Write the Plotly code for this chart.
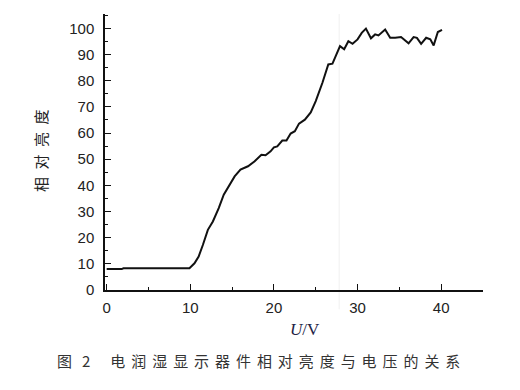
import plotly.graph_objects as go

voltage = [0.0, 1.8, 2.0, 9.9, 10.5, 11.0, 11.5, 12.1, 12.7, 13.4, 14.0, 14.7, 15.3, 16.0,
           16.9, 17.7, 18.5, 19.0, 19.6, 20.0, 20.4, 21.0, 21.5, 22.0, 22.5, 23.0, 23.7,
           24.4, 25.0, 25.8, 26.5, 27.0, 27.4, 27.9, 28.4, 28.9, 29.4, 30.0, 30.5, 31.0,
           31.6, 32.1, 32.5, 33.3, 33.9, 34.5, 35.2, 36.1, 36.7, 37.1, 37.6, 38.2, 38.7,
           39.1, 39.6, 40.1]
brightness = [8.0, 8.0, 8.3, 8.3, 10.2, 12.8, 17.2, 23.0, 26.2, 31.3, 36.4, 40.2, 43.4, 46.0,
              47.3, 49.2, 51.7, 51.5, 53.0, 54.5, 54.9, 57.1, 57.1, 59.8, 60.7, 63.6, 65.1,
              67.9, 72.2, 79.2, 86.2, 86.5, 89.4, 93.2, 92.0, 95.1, 94.1, 95.8, 98.3, 99.9,
              96.2, 97.7, 97.3, 99.6, 96.4, 96.4, 96.7, 94.3, 96.7, 96.4, 94.1, 96.4, 95.8,
              93.5, 98.6, 99.4]

x_ticks = [0, 10, 20, 30, 40]
y_ticks = [0, 10, 20, 30, 40, 50, 60, 70, 80, 90, 100]

gap = "\u2004\u200a"
caption_words = ["电", "润", "湿", "显", "示", "器", "件", "相", "对", "亮", "度", "与", "电", "压", "的", "关", "系"]
caption = "图\u2004\u20042\u2003\u2004" + gap.join(caption_words)
x_title = "<i>U</i>/V"
y_title = "相\u2002对\u2002亮\u2002度"

fig = go.Figure()
fig.add_trace(go.Scatter(x=voltage, y=brightness, mode="lines",
                         line=dict(color="#111111", width=2), showlegend=False))

# faint scan line artifact
fig.add_shape(type="line", xref="x", yref="paper", x0=27.8, x1=27.8, y0=-0.07, y1=1.0,
              line=dict(color="#f0f0f0", width=1), layer="below")

tickfont = dict(family="Liberation Sans, Arial, sans-serif", size=15, color="#222222")

fig.update_layout(
    width=520, height=390,
    margin=dict(l=105, r=37, t=14, b=100),
    paper_bgcolor="white", plot_bgcolor="white",
    xaxis=dict(range=[-0.2, 45], tickvals=x_ticks, ticks="inside", ticklen=6, tickwidth=1.3,
               tickcolor="#111111", showline=True, linecolor="#111111", linewidth=1.5,
               showgrid=False, zeroline=False, tickfont=tickfont, ticklabelstandoff=3,
               minor=dict(dtick=5, tick0=0, ticks="inside", ticklen=3, tickwidth=1.3,
                          tickcolor="#111111", showgrid=False)),
    yaxis=dict(range=[0, 105.5], tickvals=y_ticks, ticks="inside", ticklen=6, tickwidth=1.3,
               tickcolor="#111111", showline=True, linecolor="#111111", linewidth=1.5,
               showgrid=False, zeroline=False, tickfont=tickfont, ticklabelstandoff=6,
               minor=dict(dtick=5, tick0=0, ticks="inside", ticklen=3, tickwidth=1.3,
                          tickcolor="#111111", showgrid=False)),
    annotations=[
        dict(text=x_title, xref="paper", yref="paper", x=0.529, y=-0.101, xanchor="center",
             yanchor="top", showarrow=False,
             font=dict(family="Liberation Serif, Times New Roman, serif", size=17, color="#222244")),
        dict(text=y_title, xref="paper", yref="paper", x=-0.172, y=0.507, xanchor="center",
             yanchor="middle", showarrow=False, textangle=-90,
             font=dict(family="Noto Sans CJK SC", size=15, color="#222222")),
        dict(text=caption, xref="paper", yref="paper", x=0.405, y=-0.21, xanchor="center",
             yanchor="top", showarrow=False,
             font=dict(family="Noto Sans CJK SC", size=15, color="#333333")),
    ],
)

fig.write_html("out.html")
